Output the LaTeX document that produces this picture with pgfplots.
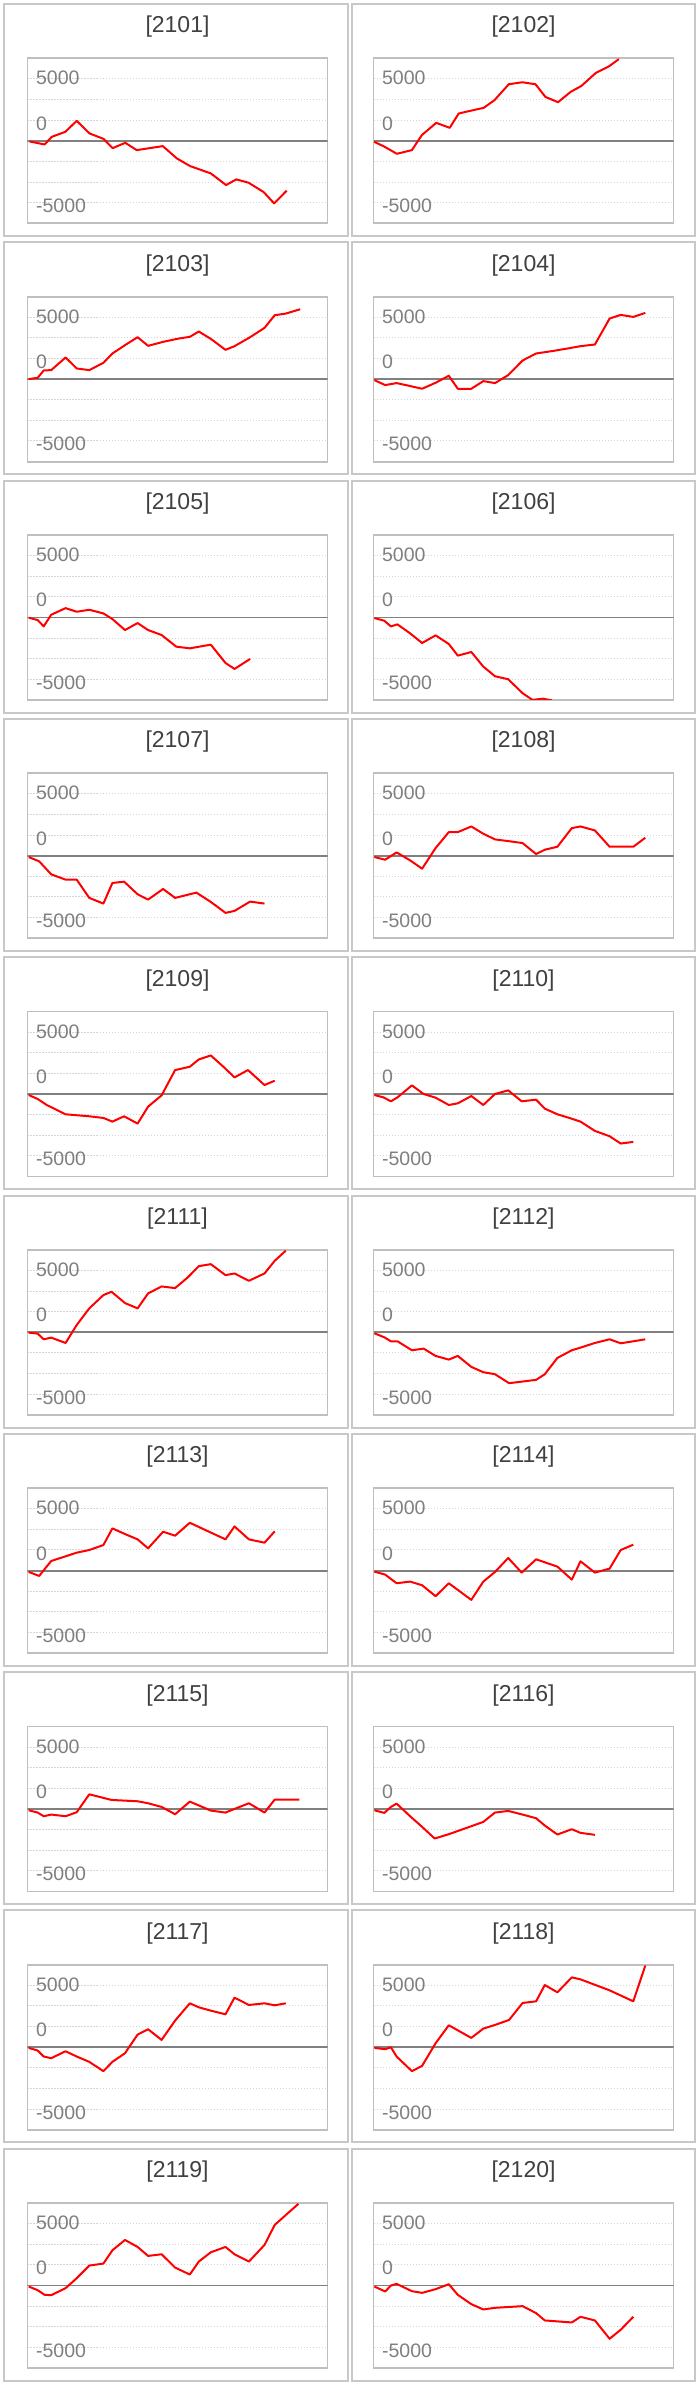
\documentclass[border=0pt]{standalone}
\usepackage{pgfplots}
\pgfplotsset{compat=1.18}
\usepackage{fontspec}
\setmainfont{Liberation Sans}
\definecolor{gridc}{HTML}{D6D6D6}
\definecolor{zeroc}{HTML}{808080}
\definecolor{boxc}{HTML}{BFBFBF}
\definecolor{panc}{HTML}{C8C8C8}
\definecolor{labc}{HTML}{7F7F7F}
\definecolor{titc}{HTML}{404040}
\newcommand{\labfont}{\fontsize{19.5}{20}\selectfont}
\newcommand{\titfont}{\fontsize{23}{24}\selectfont}
\pgfplotsset{panel/.style={
  scale only axis, width=300pt, height=165pt,
  xmin=0, xmax=100, ymin=-10000, ymax=10000,
  scaled y ticks=false, scaled x ticks=false,
  xtick=\empty, ytick={-7500,-5000,-2500,2500,5000,7500}, yticklabels={},
  major tick length=0pt,
  ymajorgrids, major grid style={color=gridc, line width=1pt, dash pattern=on 1.3pt off 1.7pt},
  axis line style={color=boxc, line width=1.8pt},
  anchor=north west,
  every axis title/.style={at={(0.5,1)}, anchor=center, yshift=31.3pt, inner sep=0pt, font=\titfont, text=titc},
}}
\newcommand{\panel}[4]{%
\begin{axis}[panel, at={(#1pt,#2pt)}, title={#3}]
\addplot[forget plot, draw=zeroc, line width=1.8pt] coordinates {(0,0) (100,0)};
\addplot[draw=red, line width=2pt, line join=round, mark=none] coordinates {#4};
\node[anchor=west, inner sep=0pt, text=labc, font=\labfont] at (rel axis cs:0.028,0.879) {5000};
\node[anchor=west, inner sep=0pt, text=labc, font=\labfont] at (rel axis cs:0.028,0.605) {0};
\node[anchor=west, inner sep=0pt, text=labc, font=\labfont] at (rel axis cs:0.028,0.105) {-5000};
\end{axis}}
\begin{document}
\begin{tikzpicture}[x=1pt,y=1pt]
\fill[white] (0,0) rectangle (700,-2386);
\foreach \t/\b in {-4/-236, -242.3/-474.3, -480.6/-712.6, -718.9/-950.9, -957.2/-1189.2, -1195.5/-1427.5, -1433.8/-1665.8, -1672.1/-1904.1, -1910.4/-2142.4, -2148.7/-2380.7}{
  \draw[panc, line width=2pt] (4,\t) rectangle (348,\b);
  \draw[panc, line width=2pt] (352,\t) rectangle (695,\b);
}
\panel{27.5}{-58.3}{{[}2101{]}}{(0.7,-81) (5.7,-444) (8.1,484) (12.6,1089) (16.4,2419) (20.7,887) (25.3,242) (28.4,-887) (32.6,-242) (36.4,-1129) (45.1,-645) (49.8,-2137) (54.2,-3064) (61.1,-3952) (66.2,-5363) (69.6,-4677) (73.7,-5081) (78.7,-6210) (82.2,-7580) (86.4,-6048)}
\panel{373.5}{-58.3}{{[}2102{]}}{(0.2,-121) (3.3,-645) (7.8,-1573) (12.8,-1129) (16.1,685) (20.9,2177) (25.4,1573) (28.4,3306) (31.7,3589) (36.7,3992) (40.3,4919) (45.1,6855) (49.6,7097) (54.0,6855) (57.3,5323) (61.5,4677) (65.7,5927) (69.3,6653) (74.1,8226) (78.5,9032) (81.8,9900)}
\panel{27.5}{-296.6}{{[}2103{]}}{(0.4,0) (3.4,161) (5.4,1048) (7.9,1089) (12.7,2621) (16.4,1290) (20.6,1089) (25.3,1976) (28.3,3105) (32.5,4113) (36.7,5081) (40.2,4032) (45.2,4516) (50.4,4919) (54.1,5121) (57.1,5766) (61.1,4879) (66.0,3548) (69.0,3992) (74.2,5081) (79.0,6210) (82.4,7742) (86.1,7944) (90.9,8468)}
\panel{373.5}{-296.6}{{[}2104{]}}{(0.3,-121) (3.9,-725) (7.7,-484) (11.8,-806) (16.2,-1169) (20.7,-443) (25.1,403) (28.1,-1169) (32.6,-1169) (36.6,-242) (40.5,-484) (44.9,484) (49.7,2257) (54.2,3105) (60.1,3427) (65.3,3750) (69.0,3992) (73.8,4193) (78.7,7339) (82.4,7782) (86.6,7540) (90.6,8024)}
\panel{27.5}{-534.9}{{[}2105{]}}{(0.4,-40) (3.4,-322) (5.4,-1088) (7.9,322) (12.7,1128) (16.4,685) (20.6,927) (25.3,484) (28.3,-202) (32.5,-1531) (36.7,-685) (40.2,-1531) (44.7,-2136) (49.6,-3546) (54.1,-3748) (61.1,-3305) (66.0,-5521) (69.0,-6247) (74.2,-5038)}
\panel{373.5}{-534.9}{{[}2106{]}}{(0.3,-81) (3.6,-403) (5.8,-1088) (8.0,-846) (12.2,-1934) (16.2,-3103) (20.7,-2176) (25.1,-3224) (28.1,-4634) (32.6,-4191) (36.6,-5964) (40.5,-7133) (44.9,-7496) (49.7,-9188) (53.0,-10000) (56.4,-9850) (59.4,-10050)}
\panel{27.5}{-773.2}{{[}2107{]}}{(0.4,-161) (3.9,-685) (7.9,-2257) (12.7,-2902) (16.4,-2902) (20.6,-5118) (25.3,-5803) (28.3,-3305) (32.2,-3143) (36.7,-4675) (40.2,-5320) (45.2,-4030) (49.2,-5118) (56.3,-4473) (61.1,-5602) (66.0,-6932) (69.0,-6690) (74.2,-5561) (79.0,-5803)}
\panel{373.5}{-773.2}{{[}2108{]}}{(0.3,-161) (3.9,-484) (7.7,403) (12.2,-564) (16.2,-1572) (20.7,927) (25.1,2861) (28.1,2861) (32.6,3546) (36.6,2660) (40.5,1975) (44.9,1773) (49.7,1531) (54.2,201) (57.1,725) (61.3,1088) (66.1,3345) (69.0,3546) (73.8,3063) (78.7,1088) (82.4,1088) (86.6,1088) (90.6,2176)}
\panel{27.5}{-1011.5}{{[}2109{]}}{(0.4,-121) (3.4,-605) (6.4,-1330) (12.7,-2458) (20.6,-2700) (25.3,-2902) (28.3,-3345) (32.2,-2700) (36.7,-3587) (40.2,-1531) (44.7,-161) (49.2,2902) (54.1,3305) (57.1,4191) (61.1,4675) (65.3,3305) (69.0,2015) (73.5,2902) (79.0,1088) (82.4,1612)}
\panel{373.5}{-1011.5}{{[}2110{]}}{(0.3,-121) (3.3,-403) (5.8,-887) (8.0,-403) (12.8,1048) (16.7,0) (20.7,-443) (25.1,-1330) (28.1,-1129) (32.6,-242) (36.6,-1330) (40.5,0) (44.9,443) (49.4,-887) (54.2,-685) (57.1,-1773) (61.3,-2458) (65.3,-2902) (69.0,-3345) (73.8,-4473) (78.7,-5118) (82.4,-6005) (86.6,-5803)}
\panel{27.5}{-1249.8}{{[}2111{]}}{(0.4,-40) (3.4,-161) (5.4,-846) (7.9,-645) (12.7,-1290) (16.4,887) (20.6,2902) (25.3,4514) (28.0,4917) (32.5,3546) (36.7,2902) (40.2,4715) (44.7,5561) (49.2,5360) (53.4,6650) (57.1,8020) (61.1,8262) (66.0,6932) (69.0,7133) (73.8,6247) (79.0,7133) (82.4,8665) (86.1,9900)}
\panel{373.5}{-1249.8}{{[}2112{]}}{(0.3,-121) (3.6,-605) (5.8,-1088) (8.0,-1088) (12.8,-2176) (16.7,-1975) (20.7,-2862) (25.1,-3305) (28.1,-2862) (32.6,-4191) (36.6,-4836) (40.5,-5078) (45.2,-6166) (49.7,-5964) (54.2,-5763) (57.1,-5078) (61.3,-3103) (66.1,-2176) (69.0,-1854) (73.8,-1290) (78.7,-846) (82.4,-1330) (86.6,-1088) (90.6,-846)}
\panel{27.5}{-1488.1}{{[}2113{]}}{(0.4,-161) (3.9,-645) (7.9,1169) (12.7,1733) (16.4,2176) (20.6,2499) (25.3,3103) (28.3,5118) (32.5,4433) (36.7,3788) (40.2,2700) (45.2,4715) (49.2,4232) (54.1,5803) (58.6,5038) (66.0,3788) (69.0,5360) (73.8,3788) (79.0,3385) (82.4,4755)}
\panel{373.5}{-1488.1}{{[}2114{]}}{(0.3,-121) (3.9,-484) (7.7,-1531) (12.2,-1330) (16.2,-1773) (20.7,-3103) (25.1,-1531) (28.1,-2338) (32.6,-3546) (36.6,-1330) (40.5,-161) (44.9,1531) (49.4,-242) (54.2,1371) (61.3,484) (66.1,-1088) (69.0,1128) (73.8,-242) (78.7,242) (82.4,2499) (86.6,3143)}
\panel{27.5}{-1726.4}{{[}2115{]}}{(0.4,-161) (3.4,-443) (5.4,-887) (7.9,-685) (12.7,-887) (16.4,-403) (20.6,1773) (28.0,1088) (36.7,927) (40.2,685) (44.7,242) (49.2,-645) (54.1,887) (61.1,-202) (66.0,-443) (69.0,0) (73.8,685) (79.0,-443) (82.4,1128) (90.6,1128)}
\panel{373.5}{-1726.4}{{[}2116{]}}{(0.3,-161) (3.6,-484) (5.8,242) (7.7,645) (12.2,-887) (16.2,-2176) (20.4,-3587) (25.1,-3063) (32.6,-2096) (36.6,-1572) (40.5,-443) (44.9,-242) (49.7,-685) (54.2,-1129) (57.1,-2015) (61.3,-3103) (66.1,-2458) (69.0,-2902) (73.8,-3143)}
\panel{27.5}{-1964.7}{{[}2117{]}}{(0.4,-81) (3.4,-403) (5.4,-1129) (7.9,-1330) (12.7,-484) (16.4,-1129) (20.6,-1773) (25.3,-2902) (28.3,-1773) (32.5,-725) (36.7,1532) (40.2,2177) (44.7,887) (49.2,3226) (54.1,5323) (57.1,4839) (61.1,4435) (66.0,3992) (69.0,6008) (73.8,5121) (79.0,5323) (82.4,5081) (86.1,5323)}
\panel{373.5}{-1964.7}{{[}2118{]}}{(0.3,-81) (3.9,-242) (5.8,0) (7.7,-1129) (12.8,-2902) (16.2,-2257) (20.7,484) (25.1,2661) (32.6,1129) (36.6,2257) (40.5,2701) (45.2,3306) (49.7,5363) (54.2,5565) (57.1,7540) (61.3,6653) (66.1,8468) (69.0,8226) (78.7,6895) (86.6,5565) (90.6,9900)}
\panel{27.5}{-2203.0}{{[}2119{]}}{(0.4,-121) (3.4,-564) (5.7,-1129) (7.9,-1169) (12.7,-322) (16.4,887) (20.6,2419) (25.3,2661) (28.3,4274) (32.5,5524) (36.7,4677) (40.2,3589) (44.7,3790) (49.2,2177) (54.1,1331) (57.1,2903) (61.1,4032) (66.0,4677) (69.0,3790) (73.8,2903) (79.0,4919) (82.4,7339) (86.1,8549) (90.3,9900)}
\panel{373.5}{-2203.0}{{[}2120{]}}{(0.3,-121) (3.9,-725) (5.8,0) (7.7,202) (12.8,-685) (16.2,-887) (20.7,-443) (25.1,161) (28.1,-1129) (32.6,-2257) (36.6,-2902) (40.5,-2701) (49.7,-2499) (54.2,-3345) (57.1,-4234) (66.1,-4476) (69.0,-3790) (73.8,-4234) (78.7,-6452) (82.4,-5363) (86.6,-3790)}
\pgfresetboundingbox
\useasboundingbox (0,0) rectangle (700,-2386);
\end{tikzpicture}
\end{document}
